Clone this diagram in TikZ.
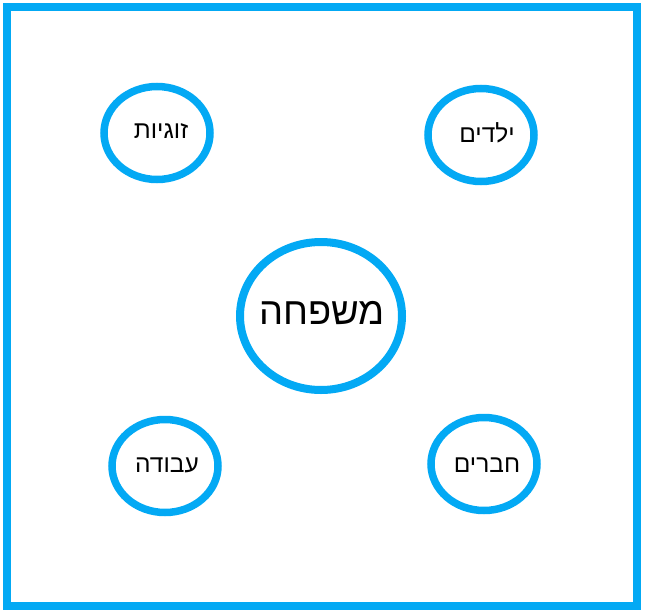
\documentclass[tikz,border=0pt]{standalone}
\usepackage{fontspec}
\usetikzlibrary{shapes.geometric}
\setmainfont{Liberation Sans}
\newfontfamily\hebfont[Script=Hebrew]{Liberation Sans}
\TeXXeTstate=1
\definecolor{topicblue}{HTML}{03A9F4}

\begin{document}
\begin{tikzpicture}[x=1pt, y=-1pt,
        topic/.style={draw=topicblue, line width=7.5pt, ellipse, inner sep=0pt,
            minimum width=106pt, minimum height=93pt},
        core/.style={topic, line width=8pt, minimum width=162pt, minimum height=148pt},
        topiclabel/.style={inner sep=0pt, font=\hebfont\fontsize{24.5}{28}\selectfont},
        corelabel/.style={inner sep=0pt, font=\hebfont\fontsize{38}{44}\selectfont}]
        \useasboundingbox (0,0) rectangle (645,613);

        % frame
        \draw[line width=8pt, color=topicblue] (7,7) rectangle (637,606);

        % center
        \node[core] (family) at (321,316) {};
        \node[corelabel] (familylabel) at (322,313) {\beginR משפחה\endR};

        % topics
        \node[topic] (couple) at (157,133) {};
        \node[topic] (kids) at (481,135) {};
        \node[topic] (work) at (165,466) {};
        \node[topic] (friends) at (484,464) {};

        % labels
        \node[topiclabel] (couplelabel) at (161,131) {\beginR זוגיות\endR};
        \node[topiclabel] (kidslabel) at (487,133) {\beginR ילדים\endR};
        \node[topiclabel] (worklabel) at (167,465) {\beginR עבודה\endR};
        \node[topiclabel] (friendslabel) at (487,465) {\beginR חברים\endR};
    \end{tikzpicture}
\end{document}
